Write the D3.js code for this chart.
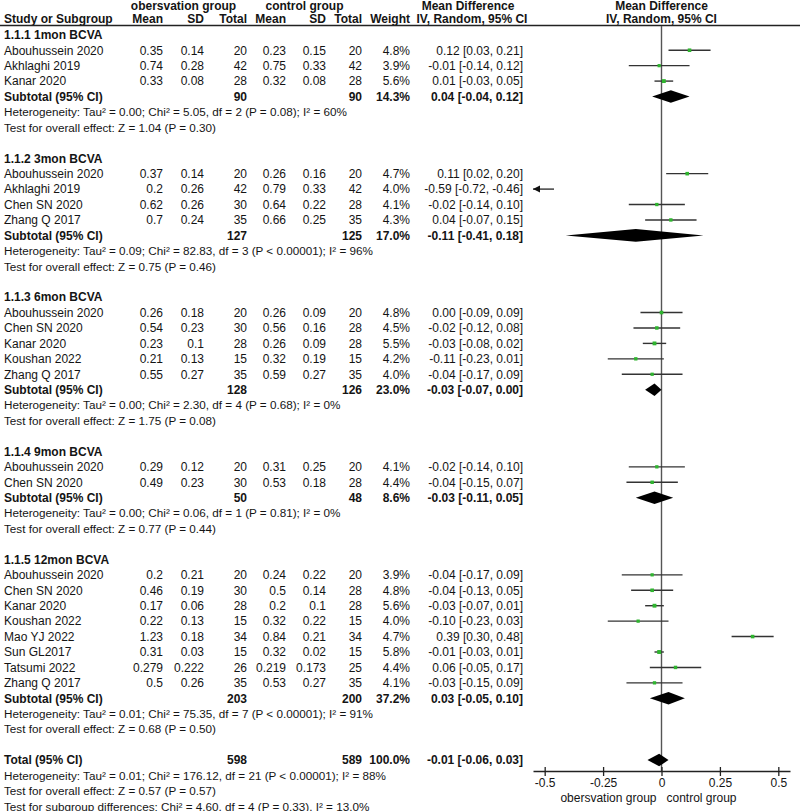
<!DOCTYPE html>
<html><head><meta charset="utf-8">
<script src="https://cdn.jsdelivr.net/npm/d3@7"></script>
<style>
body{margin:0;background:#fff}
text{font-family:"Liberation Sans",Arial,sans-serif;font-size:12px;fill:#141414}
.b{font-weight:bold}
.n{font-size:11.7px}
</style>
</head><body><svg id="c" width="800" height="811"></svg>
<script>
// ---------- DATA ----------
const groupNames = ["1.1.1 1mon BCVA","1.1.2 3mon BCVA","1.1.3 6mon BCVA","1.1.4 9mon BCVA","1.1.5 12mon BCVA"];
const studyGroup = [0,0,0, 1,1,1,1, 2,2,2,2,2, 3,3, 4,4,4,4,4,4,4,4];
const studyNames = ["Abouhussein 2020","Akhlaghi 2019","Kanar 2020",
  "Abouhussein 2020","Akhlaghi 2019","Chen SN 2020","Zhang Q 2017",
  "Abouhussein 2020","Chen SN 2020","Kanar 2020","Koushan 2022","Zhang Q 2017",
  "Abouhussein 2020","Chen SN 2020",
  "Abouhussein 2020","Chen SN 2020","Kanar 2020","Koushan 2022","Mao YJ 2022","Sun GL2017","Tatsumi 2022","Zhang Q 2017"];
const obsMean = [0.35,0.74,0.33, 0.37,0.2,0.62,0.7, 0.26,0.54,0.23,0.21,0.55, 0.29,0.49, 0.2,0.46,0.17,0.22,1.23,0.31,0.279,0.5];
const obsSD   = [0.14,0.28,0.08, 0.14,0.26,0.26,0.24, 0.18,0.23,0.1,0.13,0.27, 0.12,0.23, 0.21,0.19,0.06,0.13,0.18,0.03,0.222,0.26];
const obsN    = [20,42,28, 20,42,30,35, 20,30,28,15,35, 20,30, 20,30,28,15,34,15,26,35];
const ctrlMean= [0.23,0.75,0.32, 0.26,0.79,0.64,0.66, 0.26,0.56,0.26,0.32,0.59, 0.31,0.53, 0.24,0.5,0.2,0.32,0.84,0.32,0.219,0.53];
const ctrlSD  = [0.15,0.33,0.08, 0.16,0.33,0.22,0.25, 0.09,0.16,0.09,0.19,0.27, 0.25,0.18, 0.22,0.14,0.1,0.22,0.21,0.02,0.173,0.27];
const ctrlN   = [20,42,28, 20,42,28,35, 20,28,28,15,35, 20,28, 20,28,28,15,34,15,25,35];
const weight  = [4.8,3.9,5.6, 4.7,4.0,4.1,4.3, 4.8,4.5,5.5,4.2,4.0, 4.1,4.4, 3.9,4.8,5.6,4.0,4.7,5.8,4.4,4.1];
const md      = [0.12,-0.01,0.01, 0.11,-0.59,-0.02,0.04, 0.00,-0.02,-0.03,-0.11,-0.04, -0.02,-0.04, -0.04,-0.04,-0.03,-0.10,0.39,-0.01,0.06,-0.03];
const mdLo    = [0.03,-0.14,-0.03, 0.02,-0.72,-0.14,-0.07, -0.09,-0.12,-0.08,-0.23,-0.17, -0.14,-0.15, -0.17,-0.13,-0.07,-0.23,0.30,-0.03,-0.05,-0.15];
const mdHi    = [0.21,0.12,0.05, 0.20,-0.46,0.10,0.15, 0.09,0.08,0.02,0.01,0.09, 0.10,0.07, 0.09,0.05,0.01,0.03,0.48,0.01,0.17,0.09];

const subN1 = [90,127,128,50,203];
const subN2 = [90,125,126,48,200];
const subW  = [14.3,17.0,23.0,8.6,37.2];
const subMD = [0.04,-0.11,-0.03,-0.03,0.03];
const subLo = [-0.04,-0.41,-0.07,-0.11,-0.05];
const subHi = [0.12,0.18,0.00,0.05,0.10];
const subHet = [
  "Heterogeneity: Tau² = 0.00; Chi² = 5.05, df = 2 (P = 0.08); I² = 60%",
  "Heterogeneity: Tau² = 0.09; Chi² = 82.83, df = 3 (P < 0.00001); I² = 96%",
  "Heterogeneity: Tau² = 0.00; Chi² = 2.30, df = 4 (P = 0.68); I² = 0%",
  "Heterogeneity: Tau² = 0.00; Chi² = 0.06, df = 1 (P = 0.81); I² = 0%",
  "Heterogeneity: Tau² = 0.01; Chi² = 75.35, df = 7 (P < 0.00001); I² = 91%"];
const subTest = [
  "Test for overall effect: Z = 1.04 (P = 0.30)",
  "Test for overall effect: Z = 0.75 (P = 0.46)",
  "Test for overall effect: Z = 1.75 (P = 0.08)",
  "Test for overall effect: Z = 0.77 (P = 0.44)",
  "Test for overall effect: Z = 0.68 (P = 0.50)"];

const totN1 = 598, totN2 = 589, totW = 100.0, totMD = -0.01, totLo = -0.06, totHi = 0.03;
const totNotes = [
  "Heterogeneity: Tau² = 0.01; Chi² = 176.12, df = 21 (P < 0.00001); I² = 88%",
  "Test for overall effect: Z = 0.57 (P = 0.57)",
  "Test for subgroup differences: Chi² = 4.60, df = 4 (P = 0.33), I² = 13.0%"];

const tickValues = [-0.5,-0.25,0,0.25,0.5];
const tickLabels = ["-0.5","-0.25","0","0.25","0.5"];
const favourLeft = "obersvation group", favourRight = "control group";

// ---------- BUILD ROWS ----------
const rows = [];
groupNames.forEach((g,gi)=>{
  rows.push({type:"group", label:g});
  studyGroup.forEach((sg,i)=>{ if(sg===gi) rows.push({type:"study", i}); });
  rows.push({type:"sub", gi});
  rows.push({type:"note", label:subHet[gi]});
  rows.push({type:"note", label:subTest[gi]});
  rows.push({type:"blank"});
});
rows.push({type:"total"});
totNotes.forEach(t=>rows.push({type:"note", label:t}));

const svg = d3.select("#c");
const y = d3.scaleLinear().domain([0, rows.length-1]).range([34.8, 34.8 + 15.43*(rows.length-1)]);
const x = d3.scaleLinear().domain([-0.55,0.55]).range([533,790]);
const sq = d3.scaleSqrt().domain([0,6]).range([0,4]);
const f2 = v => (v<0?"-":"") + Math.abs(v).toFixed(2);
const ci = (m,l,h) => `${f2(m)} [${f2(l)}, ${f2(h)}]`;

const col = {obsMean:163, obsSD:204, obsN:247, ctrlMean:286, ctrlSD:326, ctrlN:362, w:410, md:523};
const LX = 4;
const base = 4.3;

const T = (g,xx,yy,t,anchor,cls) => g.append("text").attr("x",xx).attr("y",yy).attr("text-anchor",anchor||"start").attr("class",cls||null).text(t);

// headers
const hd = svg.append("g");
T(hd,183.5,9.5,"obersvation group","middle","b");
T(hd,304.5,9.5,"control group","middle","b");
T(hd,468,9.5,"Mean Difference","middle","b");
T(hd,661.5,9.5,"Mean Difference","middle","b");
T(hd,LX,23,"Study or Subgroup","start","b");
T(hd,col.obsMean,23,"Mean","end","b");
T(hd,col.obsSD,23,"SD","end","b");
T(hd,col.obsN,23,"Total","end","b");
T(hd,col.ctrlMean,23,"Mean","end","b");
T(hd,col.ctrlSD,23,"SD","end","b");
T(hd,col.ctrlN,23,"Total","end","b");
T(hd,col.w,23,"Weight","end","b");
T(hd,472,23,"IV, Random, 95% CI","middle","b");
T(hd,661.5,23,"IV, Random, 95% CI","middle","b");
svg.append("line").attr("x1",0).attr("x2",800).attr("y1",25.5).attr("y2",25.5).attr("stroke","#222").attr("stroke-width",1.3);

// zero line
const axisY = 771;
svg.append("line").attr("x1",x(0)).attr("x2",x(0)).attr("y1",26).attr("y2",axisY).attr("stroke","#555").attr("stroke-width",1.4);

const tg = svg.append("g");
const pg = svg.append("g");
const diamond = (m,l,h,yy) => {
  const hh = 6.3;
  pg.append("path").attr("d",`M${x(l)},${yy}L${x(m)},${yy-hh}L${x(h)},${yy}L${x(m)},${yy+hh}Z`).attr("fill","#000");
};
rows.forEach((r,k)=>{
  const yy = y(k), yb = yy + base;
  if(r.type==="group"){ T(tg,LX,yb,r.label,"start","b"); }
  else if(r.type==="note"){ T(tg,LX,yb,r.label,"start","n"); }
  else if(r.type==="study"){
    const i = r.i;
    T(tg,LX,yb,studyNames[i]);
    T(tg,col.obsMean,yb,String(obsMean[i]),"end");
    T(tg,col.obsSD,yb,String(obsSD[i]),"end");
    T(tg,col.obsN,yb,String(obsN[i]),"end");
    T(tg,col.ctrlMean,yb,String(ctrlMean[i]),"end");
    T(tg,col.ctrlSD,yb,String(ctrlSD[i]),"end");
    T(tg,col.ctrlN,yb,String(ctrlN[i]),"end");
    T(tg,col.w,yb,weight[i].toFixed(1)+"%","end");
    T(tg,col.md,yb,ci(md[i],mdLo[i],mdHi[i]),"end");
    const [d0,d1] = x.domain();
    const lo = Math.max(mdLo[i],d0), hi = Math.min(mdHi[i],d1);
    if(hi > d0 && lo < d1){
      pg.append("line").attr("x1",x(lo)).attr("x2",x(hi)).attr("y1",yy).attr("y2",yy).attr("stroke","#333").attr("stroke-width",1.4);
      if(mdLo[i] < d0) pg.append("path").attr("d",`M${x(d0)},${yy}l7,-3.5l0,7z`).attr("fill","#111");
      if(mdHi[i] > d1) pg.append("path").attr("d",`M${x(d1)},${yy}l-7,-3.5l0,7z`).attr("fill","#111");
    }
    if(md[i] >= d0 && md[i] <= d1){
      const s = sq(weight[i]);
      pg.append("rect").attr("x",x(md[i])-s/2).attr("y",yy-s/2).attr("width",s).attr("height",s).attr("fill","#2fb52f");
    }
  }
  else if(r.type==="sub"){
    const g = r.gi;
    T(tg,LX,yb,"Subtotal (95% CI)","start","b");
    T(tg,col.obsN,yb,String(subN1[g]),"end","b");
    T(tg,col.ctrlN,yb,String(subN2[g]),"end","b");
    T(tg,col.w,yb,subW[g].toFixed(1)+"%","end","b");
    T(tg,col.md,yb,ci(subMD[g],subLo[g],subHi[g]),"end","b");
    diamond(subMD[g],subLo[g],subHi[g],yy);
  }
  else if(r.type==="total"){
    T(tg,LX,yb,"Total (95% CI)","start","b");
    T(tg,col.obsN,yb,String(totN1),"end","b");
    T(tg,col.ctrlN,yb,String(totN2),"end","b");
    T(tg,col.w,yb,totW.toFixed(1)+"%","end","b");
    T(tg,col.md,yb,ci(totMD,totLo,totHi),"end","b");
    diamond(totMD,totLo,totHi,yy);
  }
});

// axis
const ax = svg.append("g").attr("transform",`translate(0,${axisY})`)
  .call(d3.axisBottom(x).tickValues(tickValues).tickFormat((d,i)=>tickLabels[i]).tickSize(4).tickSizeOuter(0));
ax.select(".domain").attr("stroke","#222").attr("stroke-width",1.3);
ax.selectAll(".tick line").attr("stroke","#222").attr("stroke-width",1.3).attr("y1",-4).attr("y2",5);
ax.selectAll(".tick text").attr("font-size",12).attr("font-family","Liberation Sans, Arial, sans-serif").attr("fill","#141414").attr("dy","0.5em").attr("y",10);
T(svg,x(0)-5,801.5,favourLeft,"end");
T(svg,x(0)+5,801.5,favourRight,"start");
</script>
</body></html>
